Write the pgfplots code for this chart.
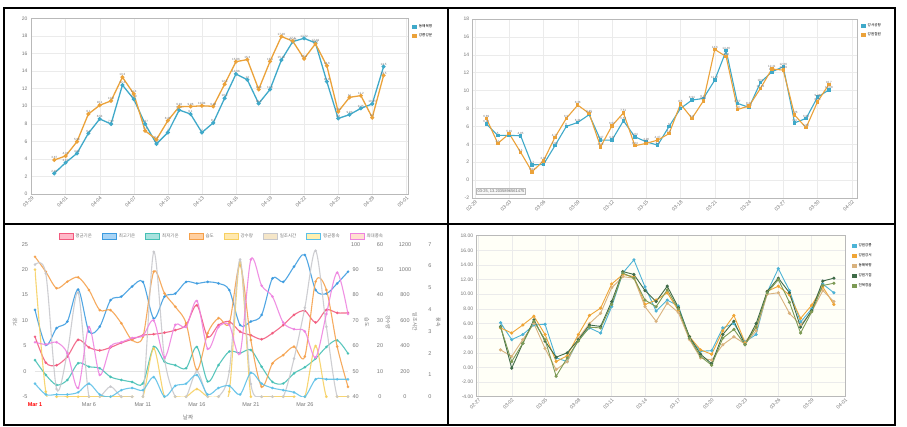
\documentclass[border=0pt]{standalone}
\usepackage{fontspec}
\setmainfont{Liberation Sans}
\newfontfamily\kr{Noto Sans CJK KR}
\usepackage{pgfplots}
\usepackage{pgfplotstable}
\pgfplotsset{compat=1.18}
\definecolor{p1b}{HTML}{3FA9C9}
\definecolor{p1o}{HTML}{EBA23A}
\definecolor{p4b}{HTML}{4DB3D6}
\definecolor{p4o}{HTML}{F0A535}
\definecolor{p4t}{HTML}{D9B27E}
\definecolor{p4g}{HTML}{3F6B48}
\definecolor{p4v}{HTML}{7C9A55}
\definecolor{c1}{HTML}{F25A7E}\definecolor{c1f}{HTML}{FFB8C8}
\definecolor{c2}{HTML}{3B9BE0}\definecolor{c2f}{HTML}{A8D4F5}
\definecolor{c3}{HTML}{45C0B5}\definecolor{c3f}{HTML}{A8E2DE}
\definecolor{c4}{HTML}{F5A04A}\definecolor{c4f}{HTML}{FFCFA0}
\definecolor{c5}{HTML}{F7D060}\definecolor{c5f}{HTML}{FFE8AE}
\definecolor{c6}{HTML}{C8C8CC}\definecolor{c6f}{HTML}{F5E6C8}
\definecolor{c7}{HTML}{5CC0E8}\definecolor{c7f}{HTML}{FFF0B0}
\definecolor{c8}{HTML}{EE82E0}\definecolor{c8f}{HTML}{FFE0D0}
\definecolor{tk}{HTML}{777777}

\pgfplotstableread{
k tavg tmax tmin hum rain sun wavg wmax
0 6.8 12.1 2.2 95.1 50 1040 0.6 2.5
1 1.7 5.2 -0.7 89.2 2 970 0.1 2.4
2 1.2 8.5 -2.7 82.7 0 60 0.1 2.5
3 2.9 9.8 -1.7 85.3 0 350 0.1 2.0
4 6.2 16.1 1.6 87.0 0 820 0.2 0.4
5 4.7 7.8 0.9 82.0 0 0 0.6 3.2
6 4.1 8.8 0.6 74.1 0 0 0.1 1.0
7 4.7 14.0 -1.1 74.1 0 80 0.0 2.3
8 5.6 14.7 -1.7 68.9 0 0 0.3 2.5
9 6.3 16.7 -2.1 62.3 0 0 0.4 2.7
10 7.1 17.6 -2.4 63.6 0 0 0.3 2.8
11 7.3 10.4 4.8 89.2 19 1140 0.9 3.5
12 7.6 14.7 1.9 80.7 0 300 0.0 1.8
13 8.1 15.3 1.2 75.4 0 0 0.5 3.3
14 9.1 17.6 0.6 68.9 0 0 0.6 3.2
15 13.0 17.3 4.8 50.5 3 200 1.0 4.4
16 6.8 17.6 -2.0 65.0 0 0 0.1 2.2
17 9.1 17.3 1.2 70.9 0 0 0.4 3.2
18 9.8 16.0 3.9 68.9 2 200 0.5 3.3
19 7.8 9.1 3.6 91.9 53 1080 0.1 2.0
20 7.1 9.8 4.2 62.3 0 100 1.1 6.3
21 6.3 11.1 0.9 43.9 0 0 0.6 5.1
22 7.5 18.3 -2.1 53.1 0 0 0.4 4.6
23 9.1 17.6 -2.4 56.4 0 0 0.3 3.4
24 11.1 20.6 -0.4 59.7 0 300 0.2 3.1
25 11.9 22.9 0.8 55.8 0 700 0.0 3.0
26 9.6 16.0 2.5 85.3 20 1150 0.8 1.8
27 12.1 15.3 4.8 82.0 0 550 0.8 3.8
28 11.5 17.3 6.1 59.7 0 0 0.8 5.7
29 11.5 19.6 3.5 43.9 0 0 0.8 3.8
}\weather

\pgfplotstableread{
d b o t g v
2 6.1 5.4 2.4 5.6 5.5
3 3.8 4.7 1.5 -0.1 0.8
4 4.5 5.8 3.8 3.3 3.3
5 5.8 7.0 6.0 6.5 6.3
6 5.9 4.5 2.6 3.6 3.8
7 1.3 0.8 -0.3 1.4 -1.2
8 0.8 1.6 0.8 2.0 1.3
9 3.8 4.5 4.0 3.8 3.6
10 5.4 7.1 6.0 5.8 5.5
11 4.7 8.1 7.4 5.6 5.4
12 8.3 11.4 10.9 9.0 8.6
13 12.9 12.7 12.4 13.1 12.9
14 14.7 12.4 12.2 12.7 12.2
15 11.0 8.6 8.3 10.5 9.2
16 7.7 9.2 6.3 9.0 8.3
17 9.2 10.2 8.8 11.1 10.6
18 8.4 7.8 7.5 8.2 8.0
19 4.0 4.2 3.8 4.2 4.0
20 2.2 2.4 1.3 1.8 1.5
21 2.3 1.8 1.0 0.5 0.3
22 5.4 5.0 3.1 4.5 4.0
23 6.0 7.1 4.2 6.3 5.2
24 3.5 3.4 3.2 3.1 3.1
25 4.5 5.5 5.0 6.0 5.5
26 10.3 10.4 10.0 10.4 10.2
27 13.5 11.1 10.2 12.2 12.0
28 10.5 9.9 7.4 10.2 8.9
29 6.2 6.7 5.8 5.5 4.7
30 8.0 8.5 7.6 7.8 7.6
31 11.4 11.0 10.5 11.8 11.2
32 10.2 8.6 9.0 12.2 11.5
}\multi

\pgfplotsset{
  /pgf/number format/assume math mode=true,
  smallaxis/.style={scale only axis, anchor=south west,
    grid=major, major grid style={gray!16, line width=0.4pt},
    axis line style={gray!55, line width=0.5pt}, tick style={draw=none},
    ticklabel style={font=\fontsize{5}{6}\selectfont, text=tk},
    xticklabel style={rotate=45, anchor=north east, inner sep=1pt},
    legend style={draw=none, fill=none, font=\kr\fontsize{3.6}{4.2}\selectfont, anchor=north west, inner sep=0pt, row sep=0.6pt},
    legend cell align=left,
    legend image code/.code={\fill[##1] (0pt,-1.6pt) rectangle (3.4pt,1.6pt);}},
  dlab/.style={nodes near coords, every node near coord/.append style={font=\fontsize{3}{3}\selectfont, text=gray!90!black, inner sep=0.6pt}},
  p3base/.style={at={(35pt,30.3pt)}, anchor=south west, scale only axis, width=313pt, height=152.4pt, xmin=0, xmax=29, scaled y ticks=false,
    ticklabel style={font=\fontsize{5.5}{6}\selectfont, text=tk}, tick style={draw=none},
    /pgf/number format/1000 sep={}},
  p3right/.style={p3base, hide x axis, axis y line*=right, y axis line style={draw=none},
    yticklabel style={anchor=center},
    ylabel style={font=\kr\fontsize{5}{6}\selectfont, text=tk, anchor=center, rotate=180}},
  s3/.style={smooth, tension=0.5, line width=1.1pt, mark=*, mark size=0.7pt, opacity=0.88}
}

\begin{document}
\begin{tikzpicture}[x=1pt,y=1pt]
\useasboundingbox (0,0) rectangle (907,427);
\fill[white] (0,0) rectangle (907,427);

% ---------------- Panel 1 ----------------
\begin{axis}[smallaxis, at={(31pt,233pt)}, width=377pt, height=175.7pt,
  xmin=-0.05, xmax=33.15, ymin=0, ymax=20, ytick={0,2,...,20},
  xtick={0,3,...,33},
  xticklabels={03-29,04-01,04-04,04-07,04-10,04-13,04-16,04-19,04-22,04-25,04-28,05-01},
  legend style={at={(axis description cs:1.0106,0.975)}}]
\addplot[p1b, line width=1.3pt, mark=*, mark size=1.3pt, dlab] table[x=d,y=v] {
d v
2 2.35
3 3.57
4 4.63
5 6.9
6 8.54
7 7.97
8 12.4
9 10.8
10 7.97
11 5.7
12 7.0
13 9.56
14 9.1
15 7.0
16 8.1
17 10.9
18 13.66
19 13.0
20 10.3
21 11.9
22 15.25
23 17.35
24 17.72
25 17.19
26 12.8
27 8.6
28 9.03
29 9.75
30 10.25
31 14.5
};
\addplot[p1o, line width=1.3pt, mark=*, mark size=1.3pt, dlab] table[x=d,y=v] {
d v
2 3.87
3 4.33
4 5.96
5 9.1
6 10.1
7 10.6
8 13.3
9 11.4
10 7.2
11 6.2
12 8.35
13 9.94
14 9.96
15 10.04
16 9.98
17 12.5
18 15.06
19 15.3
20 11.9
21 15.1
22 17.93
23 17.4
24 15.4
25 17.1
26 14.6
27 9.37
28 11.0
29 11.2
30 8.7
31 13.5
};
\legend{동해북평,강릉강문}
\end{axis}

% ---------------- Panel 2 ----------------
\begin{axis}[smallaxis, at={(472.7pt,229pt)}, width=384.3pt, height=179pt,
  xmin=-0.2, xmax=33.46, ymin=-2, ymax=18, ytick={-2,0,...,18},
  xtick={0,3,...,33},
  xticklabels={02-29,03-03,03-06,03-09,03-12,03-15,03-18,03-21,03-24,03-27,03-30,04-02},
  legend style={at={(axis description cs:1.0104,0.985)}}]
\addplot[p1b, line width=1.1pt, mark=square*, mark size=1.2pt, dlab] table[x=d,y=v] {
d v
1 6.26
2 5.0
3 5.0
4 4.95
5 1.7
6 1.75
7 3.84
8 6.0
9 6.44
10 7.31
11 4.47
12 4.47
13 6.63
14 4.84
15 4.28
16 3.9
17 6.0
18 8.0
19 8.94
20 9.12
21 11.17
22 14.46
23 8.57
24 8.12
25 10.9
26 12.1
27 12.66
28 6.4
29 6.89
30 9.26
31 10.08
};
\addplot[p1o, line width=1.1pt, mark=square*, mark size=1.2pt, dlab] table[x=d,y=v] {
d v
1 6.89
2 4.1
3 5.19
4 3.1
5 0.93
6 2.16
7 4.77
8 6.9
9 8.38
10 7.45
11 3.72
12 6.07
13 7.51
14 3.84
15 4.1
16 4.47
17 5.2
18 8.5
19 6.9
20 8.83
21 14.6
22 13.8
23 7.9
24 8.27
25 10.24
26 12.41
27 12.29
28 7.26
29 5.85
30 8.75
31 10.7
};
\legend{강서공항,강원철원}
\node[draw=gray!55, fill=gray!6, font=\fontsize{4}{4.5}\selectfont, text=gray!80!black, inner sep=1.2pt, anchor=south west] at (axis cs:0.1,-1.6) {03-25, 13.2035896561475};
\end{axis}

% ---------------- Panel 4 ----------------
\begin{axis}[smallaxis, at={(476.7pt,30.3pt)}, width=368.3pt, height=161pt,
  axis background/.style={fill=yellow!3},
  xmin=-0.15, xmax=33, ymin=-4, ymax=18, ytick={-4,-2,...,18},
  yticklabel style={/pgf/number format/.cd, fixed, fixed zerofill, precision=2},
  xtick={0,3,...,33},
  xticklabels={02-27,03-02,03-05,03-08,03-11,03-14,03-17,03-20,03-23,03-26,03-29,04-01},
  legend style={at={(axis description cs:1.019,0.962)}, row sep=1.5pt}]
\addplot[p4b, line width=0.9pt, mark=*, mark size=1.1pt] table[x=d,y=b] {\multi};
\addplot[p4o, line width=0.9pt, mark=*, mark size=1.1pt] table[x=d,y=o] {\multi};
\addplot[p4t, line width=0.9pt, mark=*, mark size=1.1pt] table[x=d,y=t] {\multi};
\addplot[p4g, line width=0.9pt, mark=*, mark size=1.1pt] table[x=d,y=g] {\multi};
\addplot[p4v, line width=0.9pt, mark=*, mark size=1.1pt] table[x=d,y=v] {\multi};
\legend{강원강릉,강원강서,동해북평,강원기점,전북정읍}
\end{axis}

% ---------------- Panel 3 ----------------
\begin{axis}[p3base, ymin=-5, ymax=25, ytick={-5,0,...,25},
  axis line style={draw=none},
  xtick={0,5,...,25},
  xticklabels={\textcolor{red}{\textbf{Mar 1}},Mar 6,Mar 11,Mar 16,Mar 21,Mar 26},
  xticklabel style={yshift=-2pt},
  yticklabel style={anchor=center, xshift=-10pt},
  extra y ticks={0}, extra y tick labels={}, extra y tick style={grid=major, major grid style={gray!20, line width=0.4pt}},
  ylabel={\kr 기온}, ylabel style={at={(axis description cs:-0.064,0.49)}, anchor=center, font=\fontsize{5}{6}\selectfont, text=tk},
  xlabel={\kr 날짜}, xlabel style={at={(axis description cs:0.489,-0.133)}, anchor=center, font=\fontsize{5.5}{6}\selectfont, text=tk},
  legend image code/.code={\draw[#1] (0pt,-2.8pt) rectangle (14pt,2.8pt);},
  legend columns=8,
  legend style={at={(axis description cs:0.597,1.05)}, anchor=center, draw=none, fill=none,
    font=\kr\fontsize{4.5}{5}\selectfont, text=tk,
    /tikz/every even column/.append style={column sep=8pt}}]
\addlegendimage{draw=c1, fill=c1f, line width=0.8pt}
\addlegendimage{draw=c2, fill=c2f, line width=0.8pt}
\addlegendimage{draw=c3, fill=c3f, line width=0.8pt}
\addlegendimage{draw=c4, fill=c4f, line width=0.8pt}
\addlegendimage{draw=c5, fill=c5f, line width=0.8pt}
\addlegendimage{draw=c6, fill=c6f, line width=0.8pt}
\addlegendimage{draw=c7, fill=c7f, line width=0.8pt}
\addlegendimage{draw=c8, fill=c8f, line width=0.8pt}
\legend{평균기온,최고기온,최저기온,습도,강수량,일조시간,평균풍속,최대풍속}
\addplot[s3, c3] table[x=k,y=tmin] {\weather};
\addplot[s3, c2] table[x=k,y=tmax] {\weather};
\addplot[s3, c1] table[x=k,y=tavg] {\weather};
\end{axis}

\begin{axis}[p3right, ymin=40, ymax=100, ytick={40,50,...,100},
  yticklabel style={xshift=7.7pt},
  ylabel={\kr 습도}, ylabel style={at={(axis description cs:1.061,0.49)}}]
\addplot[s3, c4] table[x=k,y=hum] {\weather};
\end{axis}

\begin{axis}[p3right, ymin=0, ymax=60, ytick={0,10,...,60},
  yticklabel style={xshift=32pt},
  ylabel={\kr 강수량}, ylabel style={at={(axis description cs:1.128,0.49)}}]
\addplot[s3, c5] table[x=k,y=rain] {\weather};
\end{axis}

\begin{axis}[p3right, ymin=0, ymax=1200, ytick={0,200,...,1200},
  yticklabel style={xshift=57pt},
  ylabel={\kr 일조시간}, ylabel style={at={(axis description cs:1.214,0.49)}}]
\addplot[s3, c6] table[x=k,y=sun] {\weather};
\end{axis}

\begin{axis}[p3right, ymin=0, ymax=7, ytick={0,1,...,7},
  yticklabel style={xshift=82pt},
  ylabel={\kr 풍속}, ylabel style={at={(axis description cs:1.288,0.49)}}]
\addplot[s3, c7] table[x=k,y=wavg] {\weather};
\addplot[s3, c8] table[x=k,y=wmax] {\weather};
\end{axis}

% ---------------- Frame ----------------
\draw[black, line width=1.1pt] (4,2) rectangle (895,419);
\draw[black, line width=1.1pt] (448,2) -- (448,419);
\draw[black, line width=1.1pt] (4,203) -- (895,203);
\end{tikzpicture}
\end{document}
